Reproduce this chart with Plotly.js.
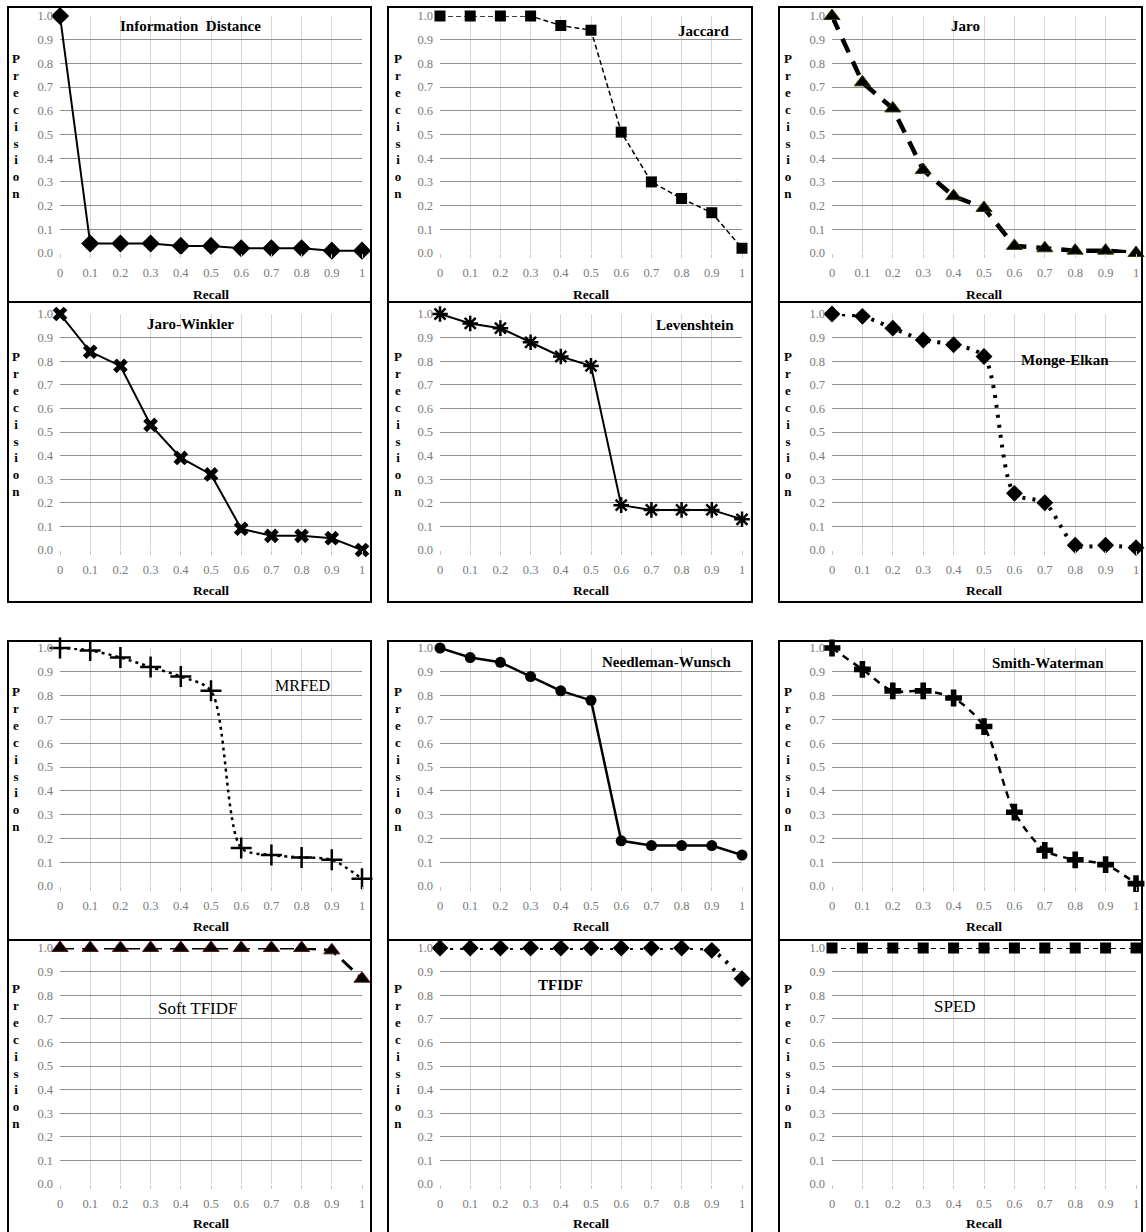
<!DOCTYPE html>
<html>
<head>
<meta charset="utf-8">
<script src="https://cdn.plot.ly/plotly-3.0.1.min.js"></script>
<style>
  html, body { margin: 0; padding: 0; background: #ffffff; }
  #chart { width: 1146px; height: 1232px; }
</style>
</head>
<body>
<div id="chart"></div>
<script>
// ---------- DATA ----------
const recall = [0, 0.1, 0.2, 0.3, 0.4, 0.5, 0.6, 0.7, 0.8, 0.9, 1];
const recallLabels = ['0', '0.1', '0.2', '0.3', '0.4', '0.5', '0.6', '0.7', '0.8', '0.9', '1'];
const precisionTicks = [0, 0.1, 0.2, 0.3, 0.4, 0.5, 0.6, 0.7, 0.8, 0.9, 1.0];
const precisionLabels = ['0.0', '0.1', '0.2', '0.3', '0.4', '0.5', '0.6', '0.7', '0.8', '0.9', '1.0'];

const informationDistance = [1.0, 0.04, 0.04, 0.04, 0.03, 0.03, 0.02, 0.02, 0.02, 0.01, 0.01];
const jaccard            = [1.0, 1.0, 1.0, 1.0, 0.96, 0.94, 0.51, 0.30, 0.23, 0.17, 0.02];
const jaro               = [1.0, 0.72, 0.61, 0.35, 0.24, 0.19, 0.03, 0.02, 0.01, 0.01, 0.0];
const jaroWinkler        = [1.0, 0.84, 0.78, 0.53, 0.39, 0.32, 0.09, 0.06, 0.06, 0.05, 0.0];
const levenshtein        = [1.0, 0.96, 0.94, 0.88, 0.82, 0.78, 0.19, 0.17, 0.17, 0.17, 0.13];
const mongeElkan         = [1.0, 0.99, 0.94, 0.89, 0.87, 0.82, 0.24, 0.20, 0.02, 0.02, 0.01];
const mrfed              = [1.0, 0.99, 0.96, 0.92, 0.88, 0.82, 0.16, 0.13, 0.12, 0.11, 0.03];
const needlemanWunsch    = [1.0, 0.96, 0.94, 0.88, 0.82, 0.78, 0.19, 0.17, 0.17, 0.17, 0.13];
const smithWaterman      = [1.0, 0.91, 0.82, 0.82, 0.79, 0.67, 0.31, 0.15, 0.11, 0.09, 0.01];
const softTfidf          = [1.0, 1.0, 1.0, 1.0, 1.0, 1.0, 1.0, 1.0, 1.0, 0.99, 0.87];
const tfidf              = [1.0, 1.0, 1.0, 1.0, 1.0, 1.0, 1.0, 1.0, 1.0, 0.99, 0.87];
const sped               = [1.0, 1.0, 1.0, 1.0, 1.0, 1.0, 1.0, 1.0, 1.0, 1.0, 1.0];

const panelNames = ['Information  Distance', 'Jaccard', 'Jaro', 'Jaro-Winkler', 'Levenshtein', 'Monge-Elkan',
                    'MRFED', 'Needleman-Wunsch', 'Smith-Waterman', 'Soft TFIDF', 'TFIDF', 'SPED'];
const panelValues = [informationDistance, jaccard, jaro, jaroWinkler, levenshtein, mongeElkan,
                     mrfed, needlemanWunsch, smithWaterman, softTfidf, tfidf, sped];
const xTitle = 'Recall';
const yTitleLetters = ['P', 'r', 'e', 'c', 'i', 's', 'i', 'o', 'n'];

// ---------- STYLE / LAYOUT ----------
const W = 1146, H = 1232;
const px = v => v / W;
const py = v => 1 - v / H;

const colPlot = [[60, 362], [440, 742], [832, 1136]];
const rowPlot = [[16, 253], [314, 550], [648, 886], [948, 1184]];
const colBox = [[8, 371], [388, 752], [779, 1142]];
const rowBox = [[7, 302], [302, 602], [641, 940], [940, 1260]];
const recallY = [294, 591, 926, 1223];
const precX = [16, 398, 788];
const precY = [126, 424, 759, 1056];

const styles = [
  {symbol: 'diamond', size: 14, dash: 'solid', width: 2, shape: 'linear', tx: 190, ty: 26, bold: true, fs: 15},
  {symbol: 'square', size: 11, dash: '5px,3px', width: 1.5, shape: 'linear', tx: 703, ty: 31, bold: true, fs: 15},
  {symbol: 'triangle-up', size: 14, dash: '15px,10px', width: 4.5, shape: 'linear', tx: 965, ty: 26, bold: true, fs: 15, mline: '#3a3a00'},
  {symbol: 'x', size: 13, dash: 'solid', width: 2, shape: 'linear', tx: 190, ty: 324, bold: true, fs: 15},
  {symbol: 'asterisk-open', size: 13, dash: 'solid', width: 2, shape: 'linear', tx: 695, ty: 325, bold: true, fs: 15, open: true},
  {symbol: 'diamond', size: 13, dash: '3px,7px', width: 4, shape: 'spline', tx: 1065, ty: 360, bold: true, fs: 15},
  {symbol: 'cross-thin-open', size: 15, dash: '3px,4px', width: 2.5, shape: 'spline', tx: 302, ty: 686, bold: false, fs: 16, open: true},
  {symbol: 'circle', size: 11, dash: 'solid', width: 2.5, shape: 'linear', tx: 667, ty: 662, bold: true, fs: 15},
  {symbol: 'cross', size: 14, dash: '7px,6px', width: 2.5, shape: 'spline', tx: 1048, ty: 663, bold: true, fs: 15},
  {symbol: 'triangle-up', size: 14, dash: '14px,8px', width: 3, shape: 'linear', tx: 198, ty: 1008, bold: false, fs: 17, mline: '#5a1414'},
  {symbol: 'diamond', size: 13, dash: '3px,7px', width: 4, shape: 'spline', tx: 560, ty: 985, bold: true, fs: 15},
  {symbol: 'square', size: 11, dash: '5px,4px', width: 2, shape: 'linear', tx: 955, ty: 1006, bold: false, fs: 17}
];

const serif = 'Liberation Serif, Times New Roman, serif';
const traces = [];
const layout = {
  width: W, height: H,
  margin: {l: 0, r: 0, t: 0, b: 0},
  paper_bgcolor: '#ffffff', plot_bgcolor: '#ffffff',
  showlegend: false, hovermode: false,
  font: {family: serif, color: '#000'},
  annotations: [], shapes: []
};

panelValues.forEach((vals, i) => {
  const r = Math.floor(i / 3), c = i % 3;
  const s = styles[i];
  const k = i === 0 ? '' : String(i + 1);
  const xa = 'xaxis' + k, ya = 'yaxis' + k;
  layout[xa] = {
    domain: [px(colPlot[c][0]), px(colPlot[c][1])],
    anchor: 'y' + k,
    range: [0, 1], fixedrange: true,
    tickvals: recall, ticktext: recallLabels,
    ticks: 'outside', ticklen: 4, tickcolor: '#c8c8c8',
    ticklabelstandoff: 4,
    showgrid: true, gridcolor: '#d6d6d6', gridwidth: 1,
    zeroline: false, showline: false,
    tickfont: {family: serif, size: 12.5, color: '#7a7a7a'}
  };
  layout[ya] = {
    domain: [py(rowPlot[r][1]), py(rowPlot[r][0])],
    anchor: 'x' + k,
    range: [0, 1], fixedrange: true,
    tickvals: precisionTicks, ticktext: precisionLabels,
    ticks: '', ticklabelstandoff: 6,
    showgrid: true, gridcolor: '#8f8f8f', gridwidth: 1,
    zeroline: false, showline: false,
    tickfont: {family: serif, size: 12.5, color: '#7a7a7a'}
  };
  const marker = {symbol: s.symbol, size: s.size, color: '#000'};
  if (s.open) marker.line = {color: '#000', width: 2.5};
  else if (s.mline) marker.line = {color: s.mline, width: 1};
  traces.push({
    type: 'scatter', mode: 'lines+markers',
    x: recall, y: vals,
    xaxis: 'x' + k, yaxis: 'y' + k,
    cliponaxis: false,
    line: {color: '#000', width: s.width, dash: s.dash, shape: s.shape, smoothing: 0.8},
    marker: marker
  });
  // panel title
  layout.annotations.push({
    xref: 'paper', yref: 'paper', x: px(s.tx), y: py(s.ty),
    xanchor: 'center', yanchor: 'middle', showarrow: false,
    text: s.bold ? '<b>' + panelNames[i] + '</b>' : panelNames[i],
    font: {family: serif, size: s.fs, color: '#000'}
  });
  // x title
  layout.annotations.push({
    xref: 'paper', yref: 'paper',
    x: px((colPlot[c][0] + colPlot[c][1]) / 2), y: py(recallY[r]),
    xanchor: 'center', yanchor: 'middle', showarrow: false,
    text: '<b>' + xTitle + '</b>',
    font: {family: serif, size: 13.5, color: '#000'}
  });
  // vertical y title
  layout.annotations.push({
    xref: 'paper', yref: 'paper',
    x: px(precX[c]), y: py(precY[r]),
    xanchor: 'center', yanchor: 'middle', showarrow: false,
    text: '<b>' + yTitleLetters.join('<br>') + '</b>',
    font: {family: serif, size: 13, color: '#000'}
  });
  // panel border
  layout.shapes.push({
    type: 'rect', xref: 'paper', yref: 'paper',
    x0: px(colBox[c][0]), x1: px(colBox[c][1]),
    y0: py(rowBox[r][1]), y1: py(rowBox[r][0]),
    line: {color: '#000', width: 2}, fillcolor: 'rgba(0,0,0,0)', layer: 'above'
  });
});

Plotly.newPlot('chart', traces, layout, {displayModeBar: false, staticPlot: true});
</script>
</body>
</html>
